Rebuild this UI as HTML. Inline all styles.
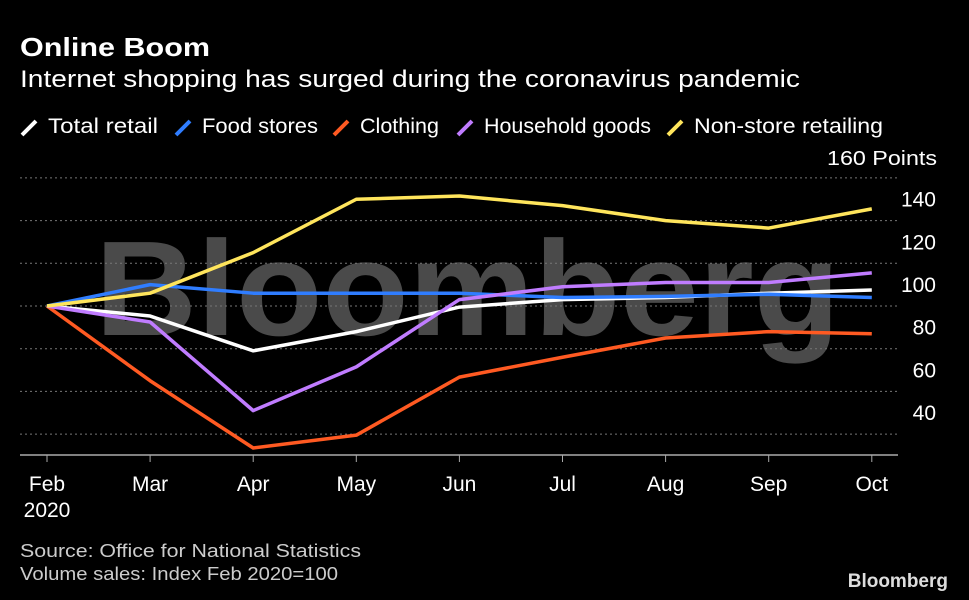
<!DOCTYPE html>
<html><head><meta charset="utf-8"><style>
body{margin:0;background:#000;width:969px;height:600px;overflow:hidden;font-family:"Liberation Sans","DejaVu Sans",sans-serif;}
svg{display:block}
</style></head><body>
<svg id="c" width="969" height="600">
<text x="20" y="56" fill="#fff" font-size="26" font-weight="bold" textLength="190" lengthAdjust="spacingAndGlyphs">Online Boom</text>
<text x="20" y="87" fill="#fff" font-size="24" textLength="780" lengthAdjust="spacingAndGlyphs">Internet shopping has surged during the coronavirus pandemic</text>
<g id="legend"></g>
<text x="937" y="165" fill="#fff" font-size="20" text-anchor="end" textLength="110" lengthAdjust="spacingAndGlyphs">160 Points</text>
<text x="95" y="335" fill="#4a4a4a" font-size="135" font-weight="bold" textLength="745" lengthAdjust="spacingAndGlyphs">Bloomberg</text>
<g id="grid"></g><g id="lines"></g><g id="xl"></g>
<line x1="20" y1="455" x2="898" y2="455" stroke="#aaa" stroke-width="1.5"/>
<text x="20" y="557" fill="#ccc" font-size="18" textLength="341" lengthAdjust="spacingAndGlyphs">Source: Office for National Statistics</text>
<text x="20" y="580" fill="#ccc" font-size="18" textLength="318" lengthAdjust="spacingAndGlyphs">Volume sales: Index Feb 2020=100</text>
<text x="948" y="587" fill="#ddd" font-size="19" font-weight="bold" text-anchor="end">Bloomberg</text>
</svg>
<script>
const months=["Feb","Mar","Apr","May","Jun","Jul","Aug","Sep","Oct"];
const yTicks=[140,120,100,80,60,40];
const seriesNames=["Total retail","Food stores","Clothing","Household goods","Non-store retailing"];
const seriesColors=["#ffffff","#2f7dff","#ff5a22","#c07cff","#ffe55c"];
const totalRetail=[100,95.3,79,88,99.5,103,104,106,107.5];
const foodStores=[100,110,106,106,106,104,104.5,105.5,104];
const clothing=[100,65,33.5,39.5,66.7,76,85,88,87];
const household=[100,92.5,51,71.5,103,109,111,111,115.5];
const nonStore=[100,106,125,150,151.5,147,140,136.5,145.5];
const allSeries=[totalRetail,foodStores,clothing,household,nonStore];
const NS="http://www.w3.org/2000/svg";
const x=i=>47+i*103.1, y=v=>306-(v-100)*2.135;
function mk(t,a,p){const e=document.createElementNS(NS,t);for(const k in a)e.setAttribute(k,a[k]);p.appendChild(e);return e;}
const g=document.getElementById('grid');
[160].concat(yTicks).forEach(v=>{
 const l=mk('line',{x1:20,x2:898,y1:y(v),y2:y(v),stroke:'#777','stroke-dasharray':'2,3'},g);
 
 
});
yTicks.forEach(v=>{
 const t=mk('text',{x:936,y:y(v)-14,fill:'#fff','font-size':21,'text-anchor':'end'},g);t.textContent=v;
 
 
});
const xl=document.getElementById('xl');
months.forEach((m,i)=>{
 mk('line',{x1:x(i),x2:x(i),y1:455,y2:462,stroke:'#aaa'},xl);
 const t=mk('text',{x:x(i),y:491,fill:'#fff','font-size':21,'text-anchor':'middle'},xl);t.textContent=m;
 
 
});
const yr=mk('text',{x:x(0),y:517,fill:'#fff','font-size':21,'text-anchor':'middle'},xl);yr.textContent="2020";


const ln=document.getElementById('lines');
allSeries.forEach((s,k)=>{
 const p=mk('polyline',{points:s.map((v,i)=>x(i)+','+y(v)).join(' '),fill:'none',stroke:seriesColors[k],'stroke-width':3.5,'stroke-linejoin':'round'},ln);
 
 
});
const lg=document.getElementById('legend');
const lx=[22,176,334,458,668];
const lw=[110,116,79,167,189];
seriesNames.forEach((n,k)=>{
 mk('line',{x1:lx[k],y1:135,x2:lx[k]+14,y2:121,stroke:seriesColors[k],'stroke-width':4},lg);
 const t=mk('text',{x:lx[k]+26,y:133,fill:'#fff','font-size':21,textLength:lw[k],lengthAdjust:'spacingAndGlyphs'},lg);t.textContent=n;
 
 
});
</script>
</body></html>
